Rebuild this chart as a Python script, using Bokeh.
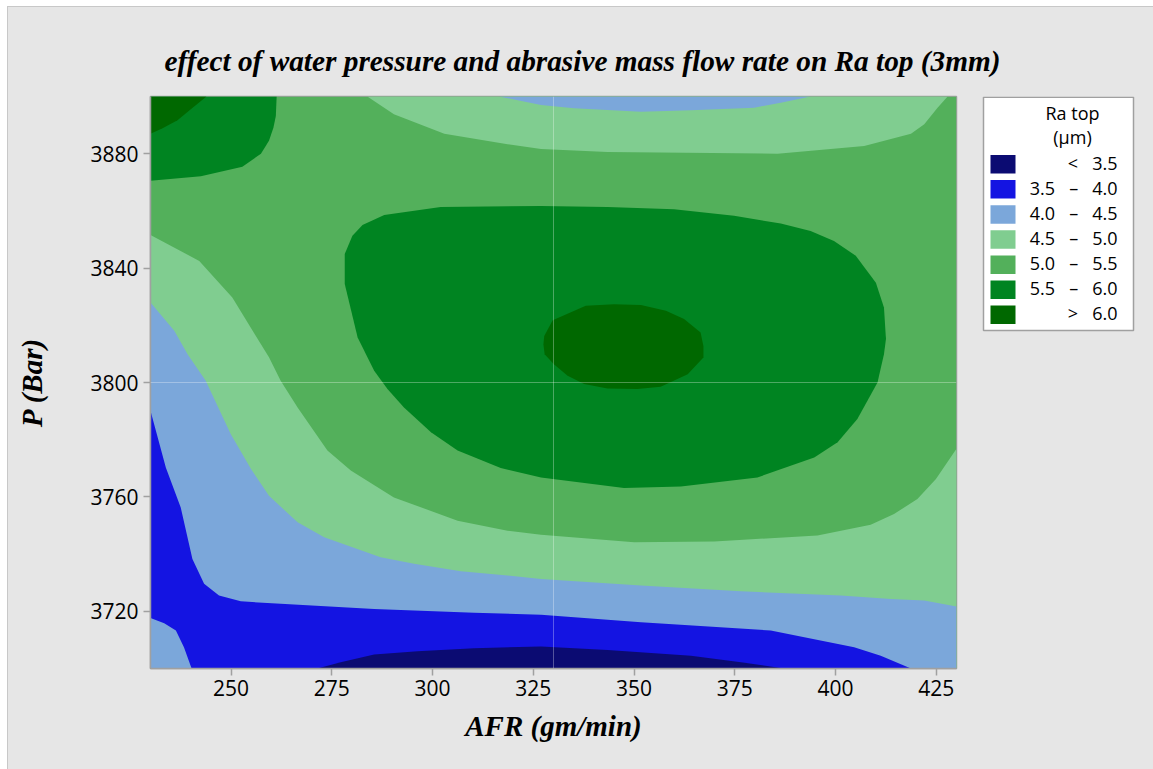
from bokeh.plotting import figure
from bokeh.layouts import column, row
from bokeh.models import FixedTicker, Span, Range1d
from bokeh.core.properties import value
from bokeh.embed import file_html
from bokeh.resources import INLINE

# ---------------- data ----------------
afr_range = [230, 430]          # AFR (gm/min) axis extent
p_range = [3700, 3900]          # P (Bar) axis extent
afr_ticks = [250, 275, 300, 325, 350, 375, 400, 425]
p_ticks = [3720, 3760, 3800, 3840, 3880]
ref_afr = 330                   # reference (centre point) lines
ref_p = 3800

band_labels = ["< 3.5", "3.5 – 4.0", "4.0 – 4.5", "4.5 – 5.0", "5.0 – 5.5", "5.5 – 6.0", "> 6.0"]
band_colors = ["#0b0b72", "#1414e2", "#7ba7da", "#80cd90", "#53b05b", "#008421", "#006800"]

title_text = "effect of water pressure and abrasive mass flow rate on Ra top (3mm)"
legend_title = ["Ra top", "(µm)"]

# contour lines (AFR, P)
c35_afr = [271.4, 277.2, 285.5, 296.3, 310.3, 326.9, 343.4, 364.1, 376.5, 387.2]
c35_p = [3700.0, 3702.2, 3704.9, 3706.0, 3707.1, 3707.7, 3706.5, 3704.5, 3702.2, 3700.0]

c40_low_afr = [230.0, 233.8, 237.5, 240.4, 243.3, 247.0, 252.4, 262.3, 285.5, 310.3, 326.9, 351.7, 383.9, 404.6, 411.2, 418.7]
c40_low_p = [3790.1, 3770.3, 3756.3, 3738.3, 3729.6, 3725.5, 3723.5, 3722.6, 3720.8, 3719.5, 3718.8, 3716.2, 3713.3, 3707.4, 3704.5, 3700.0]
c40_corner_afr = [230.0, 233.4, 236.3, 238.3, 240.2]
c40_corner_p = [3717.7, 3715.8, 3713.3, 3707.4, 3700.0]

c45_low_afr = [230.0, 235.9, 239.2, 243.7, 249.9, 254.9, 259.4, 266.5, 273.1, 287.1, 295.4, 307.0, 318.6, 326.9, 351.7, 376.5, 401.3, 413.7, 422.0, 430.0]
c45_low_p = [3828.0, 3818.1, 3809.9, 3800.6, 3782.0, 3769.8, 3760.4, 3751.1, 3745.9, 3738.9, 3736.6, 3734.0, 3732.5, 3731.3, 3729.0, 3727.0, 3725.5, 3724.3, 3723.8, 3721.7]
c45_top_afr = [316.5, 326.9, 335.1, 351.7, 364.1, 379.8, 386.4, 393.8]
c45_top_p = [3900.0, 3897.0, 3895.9, 3894.7, 3895.2, 3896.1, 3897.8, 3900.0]

c50_low_afr = [230.0, 242.1, 250.3, 259.4, 262.3, 266.5, 273.9, 279.7, 290.4, 306.2, 318.6, 326.9, 350.0, 369.9, 395.5, 408.7, 414.5, 420.3, 424.9, 430.0]
c50_low_p = [3851.6, 3842.5, 3829.7, 3808.8, 3800.6, 3791.3, 3776.2, 3769.2, 3759.8, 3751.7, 3748.2, 3746.8, 3744.1, 3744.4, 3746.5, 3750.3, 3754.0, 3759.3, 3766.3, 3776.8]
c50_top_afr = [283.8, 290.4, 302.9, 318.6, 326.9, 343.4, 385.6, 407.1, 418.7, 422.0, 425.3, 427.8]
c50_top_p = [3900.0, 3893.8, 3887.0, 3883.3, 3881.6, 3880.6, 3880.0, 3882.7, 3887.0, 3890.3, 3896.1, 3900.0]

c55_corner_afr = [261.3, 261.1, 260.5, 259.4, 257.4, 252.8, 242.5, 230.0]
c55_corner_p = [3900.0, 3893.2, 3889.1, 3884.5, 3880.0, 3875.4, 3872.1, 3870.5]
c55_center_afr = [326.9, 302.0, 288.0, 282.6, 280.1, 278.2, 278.2, 281.4, 285.5, 288.8, 292.9, 299.6, 306.2, 316.9, 326.9, 347.5, 361.6, 380.6, 394.7, 400.5, 405.4, 410.4, 412.0, 412.5, 412.0, 410.0, 405.0, 399.6, 393.8, 386.4, 374.8, 359.9, 343.4]
c55_center_p = [3861.7, 3861.4, 3858.6, 3855.1, 3851.3, 3844.9, 3834.4, 3815.7, 3804.1, 3797.7, 3791.3, 3782.6, 3776.2, 3770.1, 3766.8, 3763.1, 3763.6, 3766.8, 3773.8, 3779.1, 3787.2, 3800.0, 3809.9, 3815.2, 3826.2, 3834.9, 3844.3, 3849.5, 3853.0, 3855.6, 3858.3, 3860.6, 3861.4]

c60_corner_afr = [243.9, 240.0, 236.7, 233.0, 230.0]
c60_corner_p = [3900.0, 3895.5, 3891.7, 3888.9, 3887.0]
c60_center_afr = [327.7, 329.8, 338.0, 345.0, 351.7, 357.9, 362.4, 366.5, 367.2, 367.2, 363.3, 356.6, 350.8, 343.4, 337.6, 333.5, 330.1, 327.8, 327.5]
c60_center_p = [3816.3, 3821.8, 3826.8, 3827.4, 3827.1, 3825.1, 3822.2, 3817.5, 3812.8, 3808.7, 3802.9, 3798.5, 3797.7, 3797.9, 3799.5, 3802.4, 3806.4, 3809.9, 3813.4]

# ---------------- layout constants ----------------
BG = "#e6e6e6"
GRAY = "#a0a0a0"
EDGE = "#c8c8c8"
PAGE_X0, PAGE_Y0 = 8, 7            # where the chart block's content starts on the page
TOTAL_W, TOTAL_H = 1145, 762
TITLE_H = 81
MAIN_W = 967
LEG_W = TOTAL_W - MAIN_W
BODY_H = TOTAL_H - TITLE_H
MB_TOP, MB_BOTTOM = 8, 101          # main frame borders (legend panel frame is aligned to these)

x0, x1 = afr_range
y0, y1 = p_range


def blank_figure(w, h, xr, yr):
    f = figure(width=w, height=h, x_range=Range1d(*xr), y_range=Range1d(*yr),
               output_backend="svg", toolbar_location=None,
               x_axis_location=None, y_axis_location=None,
               min_border=0, min_border_left=0, min_border_right=0,
               min_border_top=0, min_border_bottom=0)
    f.background_fill_color = BG
    f.border_fill_color = BG
    f.outline_line_color = None
    f.xgrid.visible = False
    f.ygrid.visible = False
    return f


# ---------------- title strip (page coordinates) ----------------
pt = blank_figure(TOTAL_W, TITLE_H, (PAGE_X0, PAGE_X0 + TOTAL_W), (PAGE_Y0 + TITLE_H, PAGE_Y0))
pt.text(x=[582], y=[60.5], text=[title_text], text_font=value("Liberation Serif"),
        text_font_style="bold italic", text_font_size=value("29.3px"),
        text_align="center", text_baseline="alphabetic", text_color="black")

# ---------------- main contour plot ----------------
p = figure(width=MAIN_W, height=BODY_H, x_range=(x0, x1), y_range=(y0, y1),
           output_backend="svg", toolbar_location=None,
           min_border_left=142, min_border_top=MB_TOP,
           min_border_right=19, min_border_bottom=MB_BOTTOM)
p.background_fill_color = band_colors[4]
p.border_fill_color = BG
p.outline_line_color = GRAY
p.outline_line_width = 1.5
p.xgrid.visible = False
p.ygrid.visible = False

# 5.0 - 5.5 : whole area
p.patches(xs=[[x0, x1, x1, x0]], ys=[[y0, y0, y1, y1]], fill_color=band_colors[4], line_color=None)
# 4.5 - 5.0
p.patches(xs=[c50_top_afr, c50_low_afr + [x1, x0]],
          ys=[c50_top_p, c50_low_p + [y0, y0]],
          fill_color=band_colors[3], line_color=None)
# 4.0 - 4.5
p.patches(xs=[c45_top_afr, c45_low_afr + [x1, x0]],
          ys=[c45_top_p, c45_low_p + [y0, y0]],
          fill_color=band_colors[2], line_color=None)
# 3.5 - 4.0
p.patches(xs=[c40_low_afr + c40_corner_afr[::-1]],
          ys=[c40_low_p + c40_corner_p[::-1]],
          fill_color=band_colors[1], line_color=None)
# < 3.5
p.patches(xs=[c35_afr], ys=[c35_p], fill_color=band_colors[0], line_color=None)
# 5.5 - 6.0
p.patches(xs=[c55_corner_afr + [x0], c55_center_afr],
          ys=[c55_corner_p + [y1], c55_center_p],
          fill_color=band_colors[5], line_color=None)
# > 6.0
p.patches(xs=[c60_corner_afr + [x0], c60_center_afr],
          ys=[c60_corner_p + [y1], c60_center_p],
          fill_color=band_colors[6], line_color=None)

# reference lines
p.add_layout(Span(location=ref_afr, dimension="height", line_color="white", line_alpha=0.3, line_width=1))
p.add_layout(Span(location=ref_p, dimension="width", line_color="white", line_alpha=0.3, line_width=1))

p.xaxis.ticker = FixedTicker(ticks=afr_ticks)
p.yaxis.ticker = FixedTicker(ticks=p_ticks)
for ax in (p.xaxis, p.yaxis):
    ax.axis_line_color = GRAY
    ax.axis_line_width = 1.5
    ax.major_tick_line_color = GRAY
    ax.major_tick_line_width = 1.5
    ax.major_tick_out = 7
    ax.major_tick_in = 0
    ax.minor_tick_line_color = None
    ax.major_label_text_font = "Open Sans"
    ax.major_label_text_font_size = "21px"
    ax.major_label_text_color = "black"
    ax.axis_label_text_font = "Liberation Serif"
    ax.axis_label_text_font_style = "bold italic"
    ax.axis_label_text_font_size = "29px"
    ax.axis_label_text_color = "black"
p.xaxis.axis_label = "AFR (gm/min)"
p.yaxis.axis_label = "P (Bar)"
p.xaxis.major_label_standoff = 4
p.yaxis.major_label_standoff = 5
p.xaxis.axis_label_standoff = 11
p.yaxis.axis_label_standoff = 39

# ---------------- legend panel (page coordinates; its frame is aligned with the main frame) ----------------
lx0 = PAGE_X0 + MAIN_W
ly_top = PAGE_Y0 + TITLE_H + MB_TOP
ly_bot = PAGE_Y0 + TITLE_H + BODY_H - MB_BOTTOM
pl = blank_figure(LEG_W, BODY_H, (lx0, lx0 + LEG_W), (ly_bot, ly_top))
pl.quad(left=[983], right=[1133], top=[96.7], bottom=[330], fill_color="white",
        line_color=GRAY, line_width=1.5)
pl.text(x=[1072, 1072], y=[112, 136], text=legend_title, text_font=value("Open Sans"),
        text_font_size=value("18px"), text_align="center", text_baseline="alphabetic",
        text_color="black")

NB = "\u00a0"
GAP = " " + NB + " "
shown = []
for lab in band_labels:
    if lab[0] in "<>":
        shown.append(lab[0] + GAP + lab[2:])
    else:
        lo, hi = lab.split(" – ")
        shown.append(lo + GAP + "–" + GAP + hi)

n = len(band_labels)
sw_top = [154.5 + 25.1 * i for i in range(n)]
pl.quad(left=[990] * n, right=[1015] * n, top=sw_top, bottom=[t + 18.5 for t in sw_top],
        fill_color=band_colors, line_color=None)
pl.text(x=[1117] * n, y=[162 + 25.1 * i for i in range(n)], text=shown,
        text_font=value("Open Sans"), text_font_size=value("18px"),
        text_align="right", text_baseline="alphabetic", text_color="black")

bg_style = {"background-color": BG}
outer_style = {"background-color": BG, "border-top": "1px solid " + EDGE, "border-left": "1px solid " + EDGE}
layout = column(pt, row(p, pl, styles=bg_style), margin=(PAGE_Y0 - 1, 0, 0, PAGE_X0 - 1), styles=outer_style)
open("out.html", "w").write(file_html(layout, INLINE))
